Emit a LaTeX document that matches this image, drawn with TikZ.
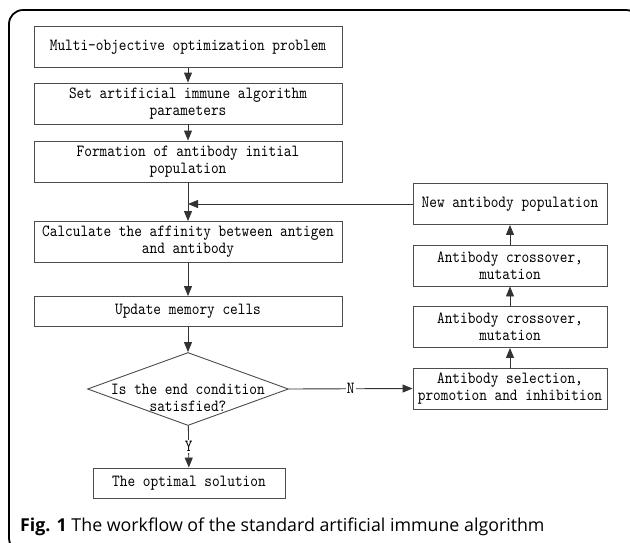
\documentclass[tikz,border=0pt]{standalone}
\usepackage{fontspec}
\newfontfamily\capfont{Open Sans}
\newfontfamily\boxfont[FakeStretch=0.86]{lmmono10-regular.otf}
\usetikzlibrary{arrows.meta,shapes.geometric}
\tikzset{>={Triangle[width=8pt,length=10pt]}}

\begin{document}
\begin{tikzpicture}[x=1pt,y=-1pt,
  box/.style={draw=black!70, line width=0.9pt, minimum width=308pt,
    minimum height=41pt, inner sep=0pt, align=center,
    font=\boxfont\fontsize{17}{17}\selectfont},
  sidebox/.style={box, minimum width=194pt},
  decision/.style={diamond, draw=black!70, line width=0.9pt,
    minimum width=201pt, minimum height=73pt, inner sep=0pt},
  flow/.style={->, draw=black!80, line width=0.9pt},
  tag/.style={fill=white, inner sep=1pt, font=\boxfont\fontsize{17}{17}\selectfont}]

  \useasboundingbox (0,0) rectangle (630,542);
  \draw[line width=1.8pt, rounded corners=14pt] (9,10) rectangle (640,552);

  % main column
  \node[box] (problem) at (188,47) {Multi-objective optimization problem};
  \node[box] (params) at (188,103.5) {Set artificial immune algorithm\\parameters};
  \node[box] (initpop) at (188,161.5) {Formation of antibody initial\\population};
  \node[box] (affinity) at (188,242) {Calculate the affinity between antigen\\and antibody};
  \node[box, minimum height=30pt] (memory) at (188,311.5) {Update memory cells};
  \node[decision, label={[align=center, yshift=-9pt,
      font=\boxfont\fontsize{17}{17}\selectfont]center:Is the end condition\\satisfied?}]
    (endcheck) at (188,389) {};
  \node[box, minimum width=192pt, minimum height=30pt] (optimum) at (189,483) {The optimal solution};

  % loop column
  \node[sidebox] (newpop) at (510,204) {New antibody population};
  \node[sidebox] (crossA) at (510,265.5) {Antibody crossover,\\mutation};
  \node[sidebox] (crossB) at (510,327) {Antibody crossover,\\mutation};
  \node[sidebox] (select) at (510,388.5) {Antibody selection,\\promotion and inhibition};

  \draw[flow] (problem) -- (params);
  \draw[flow] (params) -- (initpop);
  \draw[flow] (initpop) -- (affinity);
  \draw[flow] (affinity) -- (memory);
  \draw[flow] (memory) -- (endcheck);
  \draw[flow] (endcheck) -- node[tag] {Y} (optimum);
  \draw[flow] (endcheck.east) -- node[tag] {N} (select.west);
  \draw[flow] (select) -- (crossB);
  \draw[flow] (crossB) -- (crossA);
  \draw[flow] (crossA) -- (newpop);
  \draw[flow] (newpop.west) -- (newpop.west -| initpop.south);

  \node[anchor=base west, inner sep=0pt, font=\capfont\fontsize{17.8}{20}\selectfont]
    (caption) at (20,531) {\textbf{Fig. 1} The workflow of the standard artificial immune algorithm};
\end{tikzpicture}
\end{document}
